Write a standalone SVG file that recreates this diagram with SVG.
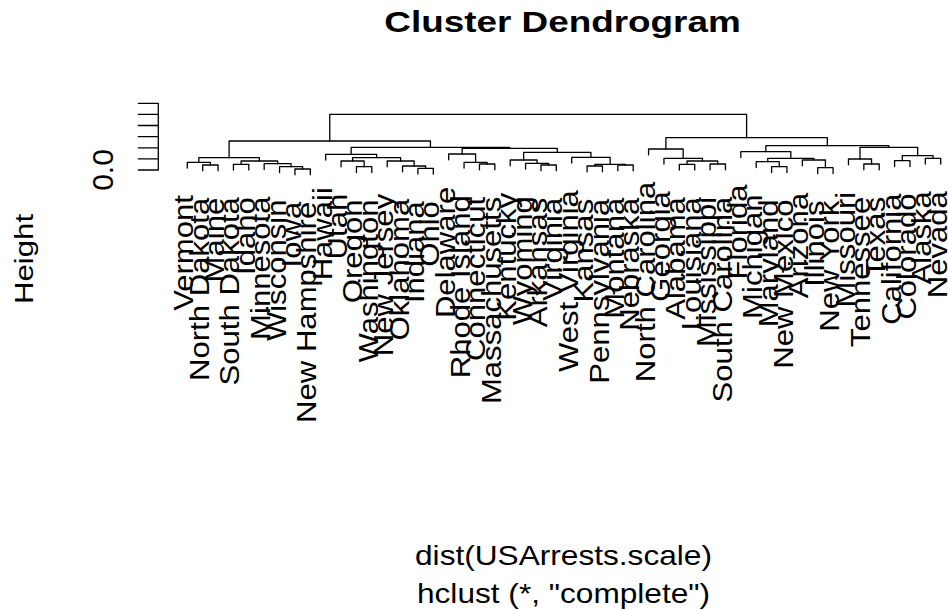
<svg xmlns="http://www.w3.org/2000/svg" width="948" height="610" viewBox="0 0 948 610">
<style>
.bg{fill:#ffffff}
.ln{fill:none;stroke:#000000;stroke-width:1.3;stroke-linecap:round;stroke-linejoin:round}
.lab{font-family:"Liberation Sans",Arial,Helvetica,sans-serif;font-size:28px;fill:#000000;text-anchor:end}
.txt{font-family:"Liberation Sans",Arial,Helvetica,sans-serif;fill:#000000;text-anchor:middle}
.ttl{font-family:"Liberation Sans",Arial,Helvetica,sans-serif;font-weight:bold;font-size:29.5px;fill:#000000;text-anchor:middle}
</style>
<rect class="bg" x="0" y="0" width="948" height="610"/>
<g id="title"><text class="ttl" transform="translate(562.5,32) scale(1.25,1)">Cluster Dendrogram</text></g>
<g id="axis">
<path class="ln" d="M158.3,103.3 V170 M138.3,103.3 H158.3 M138.3,114.4 H158.3 M138.3,125.5 H158.3 M138.3,136.7 H158.3 M138.3,147.8 H158.3 M138.3,158.9 H158.3 M138.3,170 H158.3"/>
<text class="txt" font-size="30" transform="translate(113.3,170) rotate(-90)">0.0</text>
<text class="txt" font-size="26" transform="translate(33.3,259) rotate(-90) scale(1.2,1)">Height</text>
</g>
<g id="connectors">
<path class="ln" d="M202.68,170.8 V165 H218.05 V170.8"/>
<path class="ln" d="M187.3,168.1 V162.3 H210.37 V165"/>
<path class="ln" d="M233.43,170.1 V164.3 H248.8 V170.1"/>
<path class="ln" d="M294.93,174.8 V169 H310.31 V174.8"/>
<path class="ln" d="M279.56,172.5 V166.7 H302.62 V169"/>
<path class="ln" d="M264.18,169.5 V163.7 H291.09 V166.7"/>
<path class="ln" d="M241.12,164.3 V161 H277.64 V163.7"/>
<path class="ln" d="M198.83,162.3 V157.7 H259.38 V161"/>
<path class="ln" d="M356.44,172.5 V166.7 H371.81 V172.5"/>
<path class="ln" d="M341.06,166.8 V161 H364.13 V166.7"/>
<path class="ln" d="M417.94,174.1 V168.3 H433.32 V174.1"/>
<path class="ln" d="M402.56,171.8 V166 H425.63 V168.3"/>
<path class="ln" d="M387.19,166.8 V161 H414.1 V166"/>
<path class="ln" d="M352.59,161 V157.7 H400.64 V161"/>
<path class="ln" d="M325.68,160.1 V154.3 H376.62 V157.7"/>
<path class="ln" d="M479.44,169.8 V164 H494.82 V169.8"/>
<path class="ln" d="M464.07,168.1 V162.3 H487.13 V164"/>
<path class="ln" d="M448.69,159.8 V154 H475.6 V162.3"/>
<path class="ln" d="M540.95,170.8 V165 H556.32 V170.8"/>
<path class="ln" d="M525.57,169.1 V163.3 H548.64 V165"/>
<path class="ln" d="M510.2,165.8 V160 H537.1 V163.3"/>
<path class="ln" d="M587.08,171.8 V166 H602.45 V171.8"/>
<path class="ln" d="M617.83,170.8 V165 H633.2 V170.8"/>
<path class="ln" d="M594.77,166 V164.3 H625.52 V165"/>
<path class="ln" d="M571.7,163.1 V157.3 H610.14 V164.3"/>
<path class="ln" d="M523.65,160 V152.3 H590.92 V157.3"/>
<path class="ln" d="M462.15,154 V148.3 H557.29 V152.3"/>
<path class="ln" d="M351.15,154.3 V147.3 H509.72 V148.3"/>
<path class="ln" d="M229.11,157.7 V141 H430.44 V147.3"/>
<path class="ln" d="M679.33,170.1 V164.3 H694.71 V170.1"/>
<path class="ln" d="M710.08,169.8 V164 H725.46 V169.8"/>
<path class="ln" d="M687.02,164.3 V161 H717.77 V164"/>
<path class="ln" d="M663.96,164.1 V158.3 H702.4 V161"/>
<path class="ln" d="M648.58,154.8 V149 H683.18 V158.3"/>
<path class="ln" d="M771.59,172.5 V166.7 H786.96 V172.5"/>
<path class="ln" d="M756.21,167.5 V161.7 H779.28 V166.7"/>
<path class="ln" d="M817.72,173.5 V167.7 H833.09 V173.5"/>
<path class="ln" d="M802.34,165.8 V160 H825.41 V167.7"/>
<path class="ln" d="M767.75,161.7 V158.3 H813.88 V160"/>
<path class="ln" d="M740.84,157.5 V151.7 H790.82 V158.3"/>
<path class="ln" d="M863.84,169.8 V164 H879.22 V169.8"/>
<path class="ln" d="M848.47,164.8 V159 H871.53 V164"/>
<path class="ln" d="M894.6,166.5 V160.7 H909.97 V166.5"/>
<path class="ln" d="M925.35,164.1 V158.3 H940.72 V164.1"/>
<path class="ln" d="M902.29,160.7 V155.7 H933.04 V158.3"/>
<path class="ln" d="M860,159 V147.3 H917.67 V155.7"/>
<path class="ln" d="M765.83,151.7 V145.7 H888.84 V147.3"/>
<path class="ln" d="M665.88,149 V137.7 H827.34 V145.7"/>
<path class="ln" d="M329.78,141 V114.3 H746.61 V137.7"/>
</g>
<g id="leaves">
<g id="leaf-vermont"><text class="lab" transform="translate(193.3,195.1) rotate(-90) scale(1.11,1)">Vermont</text></g>
<g id="leaf-north-dakota"><text class="lab" transform="translate(208.7,197.8) rotate(-90) scale(1.11,1)">North Dakota</text></g>
<g id="leaf-maine"><text class="lab" transform="translate(224.1,197.8) rotate(-90) scale(1.11,1)">Maine</text></g>
<g id="leaf-south-dakota"><text class="lab" transform="translate(239.4,197.1) rotate(-90) scale(1.11,1)">South Dakota</text></g>
<g id="leaf-idaho"><text class="lab" transform="translate(254.8,197.1) rotate(-90) scale(1.11,1)">Idaho</text></g>
<g id="leaf-minnesota"><text class="lab" transform="translate(270.2,196.5) rotate(-90) scale(1.11,1)">Minnesota</text></g>
<g id="leaf-wisconsin"><text class="lab" transform="translate(285.6,199.5) rotate(-90) scale(1.11,1)">Wisconsin</text></g>
<g id="leaf-iowa"><text class="lab" transform="translate(300.9,201.8) rotate(-90) scale(1.11,1)">Iowa</text></g>
<g id="leaf-new-hampshire"><text class="lab" transform="translate(316.3,201.8) rotate(-90) scale(1.11,1)">New Hampshire</text></g>
<g id="leaf-hawaii"><text class="lab" transform="translate(331.7,187.1) rotate(-90) scale(1.11,1)">Hawaii</text></g>
<g id="leaf-utah"><text class="lab" transform="translate(347.1,193.8) rotate(-90) scale(1.11,1)">Utah</text></g>
<g id="leaf-oregon"><text class="lab" transform="translate(362.4,199.5) rotate(-90) scale(1.11,1)">Oregon</text></g>
<g id="leaf-washington"><text class="lab" transform="translate(377.8,199.5) rotate(-90) scale(1.11,1)">Washington</text></g>
<g id="leaf-new-jersey"><text class="lab" transform="translate(393.2,193.8) rotate(-90) scale(1.11,1)">New Jersey</text></g>
<g id="leaf-oklahoma"><text class="lab" transform="translate(408.6,198.8) rotate(-90) scale(1.11,1)">Oklahoma</text></g>
<g id="leaf-indiana"><text class="lab" transform="translate(423.9,201.1) rotate(-90) scale(1.11,1)">Indiana</text></g>
<g id="leaf-ohio"><text class="lab" transform="translate(439.3,201.1) rotate(-90) scale(1.11,1)">Ohio</text></g>
<g id="leaf-delaware"><text class="lab" transform="translate(454.7,186.8) rotate(-90) scale(1.11,1)">Delaware</text></g>
<g id="leaf-rhode-island"><text class="lab" transform="translate(470.1,195.1) rotate(-90) scale(1.11,1)">Rhode Island</text></g>
<g id="leaf-connecticut"><text class="lab" transform="translate(485.4,196.8) rotate(-90) scale(1.11,1)">Connecticut</text></g>
<g id="leaf-massachusetts"><text class="lab" transform="translate(500.8,196.8) rotate(-90) scale(1.11,1)">Massachusetts</text></g>
<g id="leaf-kentucky"><text class="lab" transform="translate(516.2,192.8) rotate(-90) scale(1.11,1)">Kentucky</text></g>
<g id="leaf-wyoming"><text class="lab" transform="translate(531.6,196.1) rotate(-90) scale(1.11,1)">Wyoming</text></g>
<g id="leaf-arkansas"><text class="lab" transform="translate(546.9,197.8) rotate(-90) scale(1.11,1)">Arkansas</text></g>
<g id="leaf-virginia"><text class="lab" transform="translate(562.3,197.8) rotate(-90) scale(1.11,1)">Virginia</text></g>
<g id="leaf-west-virginia"><text class="lab" transform="translate(577.7,190.1) rotate(-90) scale(1.11,1)">West Virginia</text></g>
<g id="leaf-kansas"><text class="lab" transform="translate(593.1,198.8) rotate(-90) scale(1.11,1)">Kansas</text></g>
<g id="leaf-pennsylvania"><text class="lab" transform="translate(608.5,198.8) rotate(-90) scale(1.11,1)">Pennsylvania</text></g>
<g id="leaf-montana"><text class="lab" transform="translate(623.8,197.8) rotate(-90) scale(1.11,1)">Montana</text></g>
<g id="leaf-nebraska"><text class="lab" transform="translate(639.2,197.8) rotate(-90) scale(1.11,1)">Nebraska</text></g>
<g id="leaf-north-carolina"><text class="lab" transform="translate(654.6,181.8) rotate(-90) scale(1.11,1)">North Carolina</text></g>
<g id="leaf-georgia"><text class="lab" transform="translate(670,191.1) rotate(-90) scale(1.11,1)">Georgia</text></g>
<g id="leaf-alabama"><text class="lab" transform="translate(685.3,197.1) rotate(-90) scale(1.11,1)">Alabama</text></g>
<g id="leaf-louisiana"><text class="lab" transform="translate(700.7,197.1) rotate(-90) scale(1.11,1)">Louisiana</text></g>
<g id="leaf-mississippi"><text class="lab" transform="translate(716.1,196.8) rotate(-90) scale(1.11,1)">Mississippi</text></g>
<g id="leaf-south-carolina"><text class="lab" transform="translate(731.5,196.8) rotate(-90) scale(1.11,1)">South Carolina</text></g>
<g id="leaf-florida"><text class="lab" transform="translate(746.8,184.5) rotate(-90) scale(1.11,1)">Florida</text></g>
<g id="leaf-michigan"><text class="lab" transform="translate(762.2,194.5) rotate(-90) scale(1.11,1)">Michigan</text></g>
<g id="leaf-maryland"><text class="lab" transform="translate(777.6,199.5) rotate(-90) scale(1.11,1)">Maryland</text></g>
<g id="leaf-new-mexico"><text class="lab" transform="translate(793,199.5) rotate(-90) scale(1.11,1)">New Mexico</text></g>
<g id="leaf-arizona"><text class="lab" transform="translate(808.3,192.8) rotate(-90) scale(1.11,1)">Arizona</text></g>
<g id="leaf-illinois"><text class="lab" transform="translate(823.7,200.5) rotate(-90) scale(1.11,1)">Illinois</text></g>
<g id="leaf-new-york"><text class="lab" transform="translate(839.1,200.5) rotate(-90) scale(1.11,1)">New York</text></g>
<g id="leaf-missouri"><text class="lab" transform="translate(854.5,191.8) rotate(-90) scale(1.11,1)">Missouri</text></g>
<g id="leaf-tennessee"><text class="lab" transform="translate(869.8,196.8) rotate(-90) scale(1.11,1)">Tennessee</text></g>
<g id="leaf-texas"><text class="lab" transform="translate(885.2,196.8) rotate(-90) scale(1.11,1)">Texas</text></g>
<g id="leaf-california"><text class="lab" transform="translate(900.6,193.5) rotate(-90) scale(1.11,1)">California</text></g>
<g id="leaf-colorado"><text class="lab" transform="translate(916,193.5) rotate(-90) scale(1.11,1)">Colorado</text></g>
<g id="leaf-alaska"><text class="lab" transform="translate(931.4,191.1) rotate(-90) scale(1.11,1)">Alaska</text></g>
<g id="leaf-nevada"><text class="lab" transform="translate(946.7,191.1) rotate(-90) scale(1.11,1)">Nevada</text></g>
</g>
<g id="captions">
<text class="txt" font-size="28" transform="translate(563.5,565) scale(1.13,1)">dist(USArrests.scale)</text>
<text class="txt" font-size="28" transform="translate(563.5,602.5) scale(1.13,1)">hclust (*, "complete")</text>
</g>
</svg>
